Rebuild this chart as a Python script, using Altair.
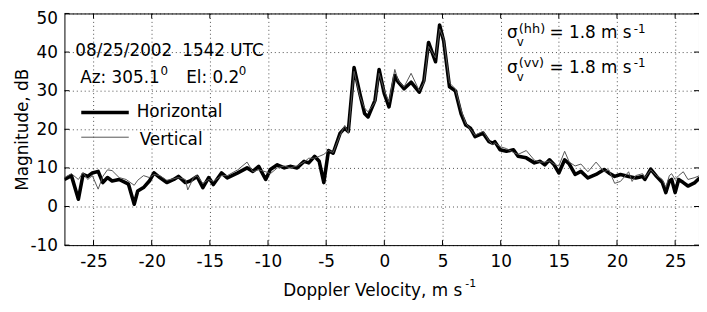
import altair as alt
import pandas as pd

# ---------------- data ----------------
h_vel = [-27.5, -26.9, -26.3, -25.9, -25.5, -25.1, -24.6, -24.2, -23.8, -23.4,
         -22.8, -22.2, -22.0, -21.5, -21.2, -20.7, -20.2, -19.8, -19.3, -18.7,
         -18.1, -17.7, -17.1, -16.7, -16.1, -15.6, -15.1, -14.7, -14.0, -13.5,
         -12.6, -11.8, -11.3, -10.8, -10.2, -9.8, -9.2, -8.6, -8.1, -7.5,
         -6.9, -6.5, -6.0, -5.6, -5.2, -4.8, -4.4, -3.8, -3.4, -3.1,
         -2.6, -2.1, -1.7, -1.4, -0.8, -0.45, 0.0, 0.4, 0.9, 1.2,
         1.7, 2.3, 3.0, 3.4, 3.8, 4.4, 4.75, 5.1, 5.6, 6.1,
         6.6, 7.0, 7.4, 7.8, 8.5, 9.0, 9.3, 9.5, 9.95, 10.5,
         11.1, 11.5, 12.2, 12.9, 13.4, 13.8, 14.2, 14.6, 15.0, 15.5,
         15.9, 16.4, 16.9, 17.5, 18.2, 18.9, 19.3, 19.8, 20.3, 21.0,
         21.6, 22.2, 22.4, 22.9, 23.4, 23.9, 24.2, 24.5, 24.7, 25.0,
         25.3, 25.7, 26.1, 26.7, 27.1]
h_mag = [7.0, 8.0, 1.9, 8.3, 7.8, 8.7, 9.1, 6.2, 7.5, 6.6,
         7.0, 6.1, 5.8, 0.6, 4.0, 4.9, 6.6, 8.7, 7.5, 6.2,
         7.0, 7.8, 6.2, 6.6, 7.8, 4.9, 7.5, 5.7, 8.7, 7.4,
         8.7, 10.0, 9.1, 10.4, 7.0, 9.6, 10.8, 10.0, 10.4, 10.0,
         11.7, 11.3, 13.0, 11.7, 6.2, 14.5, 13.8, 19.0, 20.3, 19.4,
         36.0, 29.2, 24.1, 23.2, 27.5, 35.5, 29.2, 25.8, 33.9, 32.2,
         30.5, 32.2, 29.6, 32.6, 42.5, 37.5, 47.0, 42.9, 31.0, 30.0,
         24.0, 21.1, 20.3, 18.1, 19.0, 16.8, 16.4, 16.8, 14.7, 14.3,
         14.7, 13.0, 12.6, 11.3, 11.7, 10.8, 12.1, 10.8, 8.7, 12.1,
         11.0, 8.3, 9.1, 7.4, 8.3, 9.6, 8.7, 7.8, 8.3, 7.8,
         7.4, 7.8, 7.0, 9.7, 7.8, 6.2, 3.6, 6.6, 7.0, 3.6,
         7.0, 6.2, 5.3, 6.2, 7.4]

v_vel = [-27.5, -26.9, -26.3, -25.9, -25.5, -25.1, -24.6, -24.2, -23.8, -23.4,
         -22.8, -22.2, -21.5, -21.2, -20.7, -20.2, -19.8, -19.3, -18.7, -18.1,
         -17.7, -17.1, -16.9, -16.4, -16.1, -15.6, -15.1, -14.7, -14.0, -13.5,
         -12.6, -11.8, -11.3, -10.8, -10.2, -9.8, -9.2, -8.6, -8.1, -7.5,
         -6.9, -6.5, -6.0, -5.6, -5.2, -4.8, -4.4, -3.8, -3.4, -3.1,
         -2.6, -2.1, -1.7, -1.4, -0.8, -0.45, 0.0, 0.4, 0.9, 1.2,
         1.7, 2.3, 3.0, 3.4, 3.8, 4.4, 4.75, 5.1, 5.6, 6.1,
         6.6, 7.0, 7.4, 7.8, 8.5, 9.0, 9.3, 9.5, 9.95, 10.5,
         11.1, 11.5, 12.2, 12.9, 13.4, 13.8, 14.2, 14.6, 15.0, 15.5,
         15.9, 16.4, 16.9, 17.5, 18.2, 18.9, 19.3, 19.8, 20.3, 21.0,
         21.3, 21.6, 22.2, 22.4, 22.9, 23.4, 23.9, 24.2, 24.5, 24.7,
         25.0, 25.3, 25.7, 26.1, 26.7, 27.1]
v_mag = [7.5, 8.5, 7.0, 8.8, 7.0, 8.0, 4.5, 7.8, 9.5, 9.3,
         7.5, 7.0, 5.5, 6.8, 8.0, 7.5, 8.3, 8.0, 6.8, 7.2,
         7.5, 7.0, 4.3, 7.5, 8.0, 6.0, 7.0, 6.5, 8.0, 8.0,
         9.5, 11.5, 9.0, 9.5, 9.0, 8.5, 10.0, 10.5, 10.0, 10.5,
         11.5, 12.5, 12.5, 13.0, 13.5, 14.5, 14.0, 18.5, 21.0, 19.0,
         35.0, 28.5, 25.5, 24.5, 27.0, 34.5, 30.0, 27.0, 35.5, 32.5,
         31.0, 34.5, 30.0, 32.0, 41.5, 38.5, 46.0, 43.5, 32.0, 30.5,
         25.0, 21.5, 20.0, 18.5, 19.5, 17.0, 16.0, 16.5, 15.5, 15.0,
         14.0, 13.5, 14.5, 12.0, 11.5, 11.5, 11.8, 11.0, 10.5, 14.3,
         11.5, 10.5, 11.0, 9.0, 11.5, 9.0, 9.5, 6.0, 6.5, 9.0,
         6.5, 8.0, 8.5, 7.5, 9.5, 8.0, 7.0, 5.0, 8.0, 8.5,
         7.0, 8.0, 9.0, 7.0, 7.5, 8.0]

x_ticks = [-25, -20, -15, -10, -5, 0, 5, 10, 15, 20, 25]
y_ticks = [-10, 0, 10, 20, 30, 40, 50]
x_domain = [-27.5, 27.05]
y_domain = [-10, 50]

series_names = ["Horizontal", "Vertical"]
y_title = "Magnitude, dB"
x_title = "Doppler Velocity, m s"
x_title_sup = "-1"
date_txt = ["08/25/2002", "1542 UTC"]
angle_txt = ["Az: 305.1", "El: 0.2"]
sigma_val = "= 1.8 m s"

# ---------------- layout / style ----------------
W, H = 641, 234
FONT = "DejaVu Sans"
FS = 17

xs = alt.Scale(domain=x_domain, nice=False, zero=False)
ys = alt.Scale(domain=y_domain, nice=False, zero=False)

common_axis = dict(grid=True, ticks=False, domain=False, labelFont=FONT,
                   labelFontSize=FS, labelColor="black", gridColor="#000",
                   gridDash=[1, 3], gridOpacity=0.7, gridWidth=1,
                   labelExpr="'' + datum.value")
xaxis = alt.Axis(values=x_ticks, title=None, labelPadding=9, **common_axis)
yaxis = alt.Axis(values=y_ticks, title=y_title, labelPadding=7,
                 labelOffset={"condition": {"test": "datum.value == 50", "value": 5},
                              "value": 0},
                 titleFont=FONT, titleFontSize=FS, titleFontWeight="normal",
                 titleColor="black", titleX=-33, titleY=H / 2, **common_axis)

hdf = pd.DataFrame({"vel": h_vel, "mag": h_mag})
vdf = pd.DataFrame({"vel": v_vel, "mag": v_mag})
xt = pd.DataFrame({"t": x_ticks})
yt = pd.DataFrame({"t": y_ticks})
one = pd.DataFrame({"k": [0]})

X = alt.X("vel:Q", scale=xs, axis=xaxis)
Y = alt.Y("mag:Q", scale=ys, axis=yaxis)

line_h = alt.Chart(hdf).mark_line(color="black", strokeWidth=3.6, clip=True,
                                  strokeJoin="round").encode(x=X, y=Y)
line_v = alt.Chart(vdf).mark_line(color="#555555", strokeWidth=1, clip=True).encode(x=X, y=Y)

tick_b = alt.Chart(xt).mark_rule(color="black").encode(
    x=alt.X("t:Q", scale=xs, axis=xaxis), y=alt.value(H), y2=alt.value(H - 5))
tick_t = alt.Chart(xt).mark_rule(color="black").encode(
    x=alt.X("t:Q", scale=xs, axis=xaxis), y=alt.value(0), y2=alt.value(5))
tick_l = alt.Chart(yt).mark_rule(color="black").encode(
    y=alt.Y("t:Q", scale=ys, axis=yaxis), x=alt.value(0), x2=alt.value(5))
tick_r = alt.Chart(yt).mark_rule(color="black").encode(
    y=alt.Y("t:Q", scale=ys, axis=yaxis), x=alt.value(W), x2=alt.value(W - 5))


def txt(s, x, y, size=FS, baseline="alphabetic", align="left"):
    return alt.Chart(one).mark_text(text=s, font=FONT, fontSize=size, align=align,
                                    baseline=baseline, color="black").encode(
        x=alt.value(x), y=alt.value(y))


def leg_line(y, width, color):
    return alt.Chart(one).mark_rule(color=color, strokeWidth=width).encode(
        x=alt.value(17), x2=alt.value(65), y=alt.value(y))


annotations = [
    txt(date_txt[0], 11, 43), txt(date_txt[1], 119, 43),
    txt(angle_txt[0], 16, 70), txt("0", 97, 62, size=12),
    txt(angle_txt[1], 123, 70), txt("0", 176, 62, size=12),
    leg_line(100, 3.6, "black"), txt(series_names[0], 73, 100, baseline="middle"),
    leg_line(125, 1, "#555555"), txt(series_names[1], 76, 128, baseline="middle"),
    # sigma (hh)
    txt("σ", 447, 25), txt("v", 457, 33, size=12), txt("(hh)", 459, 20, size=13),
    txt(sigma_val, 490, 25), txt("-1", 575, 20, size=12),
    # sigma (vv)
    txt("σ", 447, 60), txt("v", 457, 68, size=12), txt("(vv)", 459, 54, size=13),
    txt(sigma_val, 490, 60), txt("-1", 575, 54, size=12),
    # x title
    txt(x_title, 221, 285), txt(x_title_sup, 405, 276, size=11),
]

chart = alt.layer(line_h, line_v, tick_b, tick_t, tick_l, tick_r, *annotations).properties(
    width=W, height=H,
    padding={"left": 57, "top": 4, "right": 0, "bottom": 62},
    autosize=alt.AutoSizeParams(type="none"),
).configure_view(stroke="black", strokeWidth=1)

chart.save("out.html", embed_options={"renderer": "svg", "actions": False})
